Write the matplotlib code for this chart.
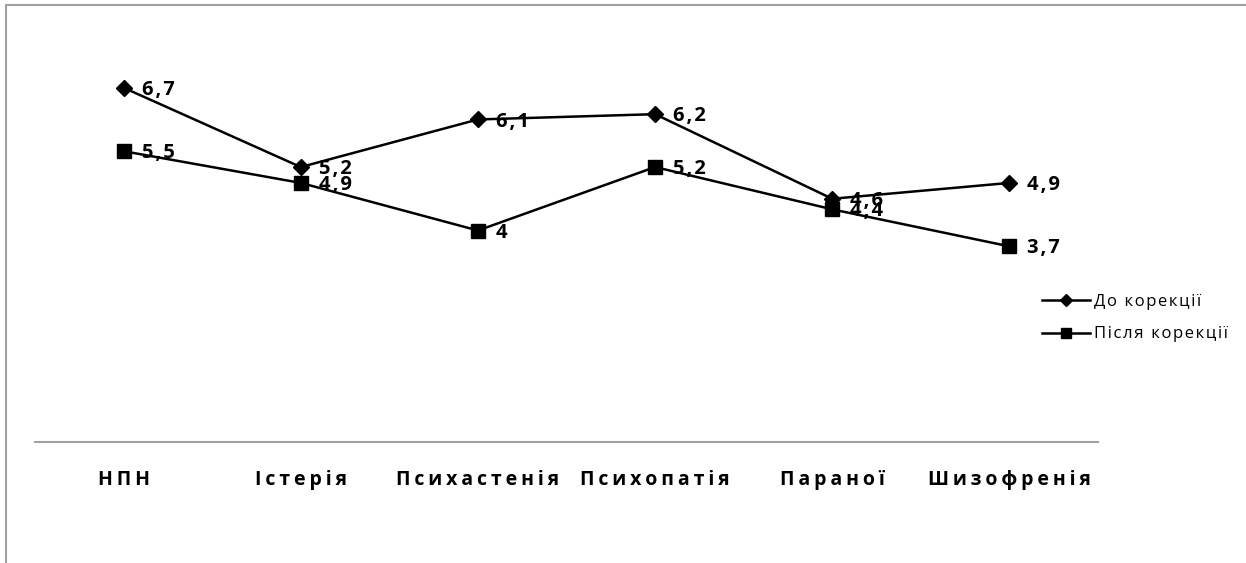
import matplotlib.pyplot as plt
from matplotlib.patches import Rectangle

# Дані
categories = ['НПН', 'Істерія', 'Психастенія', 'Психопатія', 'Параної', 'Шизофренія']
before = [6.7, 5.2, 6.1, 6.2, 4.6, 4.9]
after = [5.5, 4.9, 4.0, 5.2, 4.4, 3.7]
series_names = ['До корекції', 'Після корекції']

FONT = ['Open Sans', 'DejaVu Sans']


def spaced(s, sep='\u200a'):
    return sep.join(s)


def fmt(v):
    return f'{v:g}'.replace('.', ',')


W, H = 1246, 563
fig = plt.figure(figsize=(W / 100, H / 100), dpi=100)
ax = fig.add_axes([35 / W, 1 - 442 / H, (1098 - 35) / W, (442 - 19) / H])

x = list(range(len(categories)))
ax.plot(x, before, color='black', lw=1.8, marker='D', ms=8.5, label=spaced(series_names[0]))
ax.plot(x, after, color='black', lw=1.8, marker='s', ms=10, label=spaced(series_names[1]))

for xi, v in zip(x, before):
    ax.annotate(spaced(fmt(v)), (xi, v), xytext=(13, -1.5), textcoords='offset points',
                va='center', ha='left', fontsize=14.5, fontweight='bold', family=FONT)
for xi, v in zip(x, after):
    ax.annotate(spaced(fmt(v)), (xi, v), xytext=(13, -1.5), textcoords='offset points',
                va='center', ha='left', fontsize=14.5, fontweight='bold', family=FONT)

ax.set_xlim(-0.5, len(categories) - 0.5)
ax.set_ylim(0, 8)
ax.set_yticks([])
ax.set_xticks(x)
ax.set_xticklabels([spaced(c, '\u2009') for c in categories], fontsize=14,
                   fontweight='bold', family=FONT)
ax.tick_params(axis='x', length=0, pad=20)
for side in ['top', 'right', 'left']:
    ax.spines[side].set_visible(False)
ax.spines['bottom'].set_color('#a0a0a0')
ax.spines['bottom'].set_linewidth(1.5)

fig.legend(loc='center left', bbox_to_anchor=(1027 / W, 1 - 318 / H), frameon=False,
           prop={'family': FONT, 'size': 12}, handlelength=2.9, labelspacing=1.0,
           handletextpad=0.25, markerscale=0.75)

# Рамка
fig.patches.append(Rectangle((6 / W, -0.1), 1.2, 1.1 - 5 / H, transform=fig.transFigure,
                             fill=False, edgecolor='#a0a0a0', lw=1.5))

fig.savefig('out.png', dpi=100)
